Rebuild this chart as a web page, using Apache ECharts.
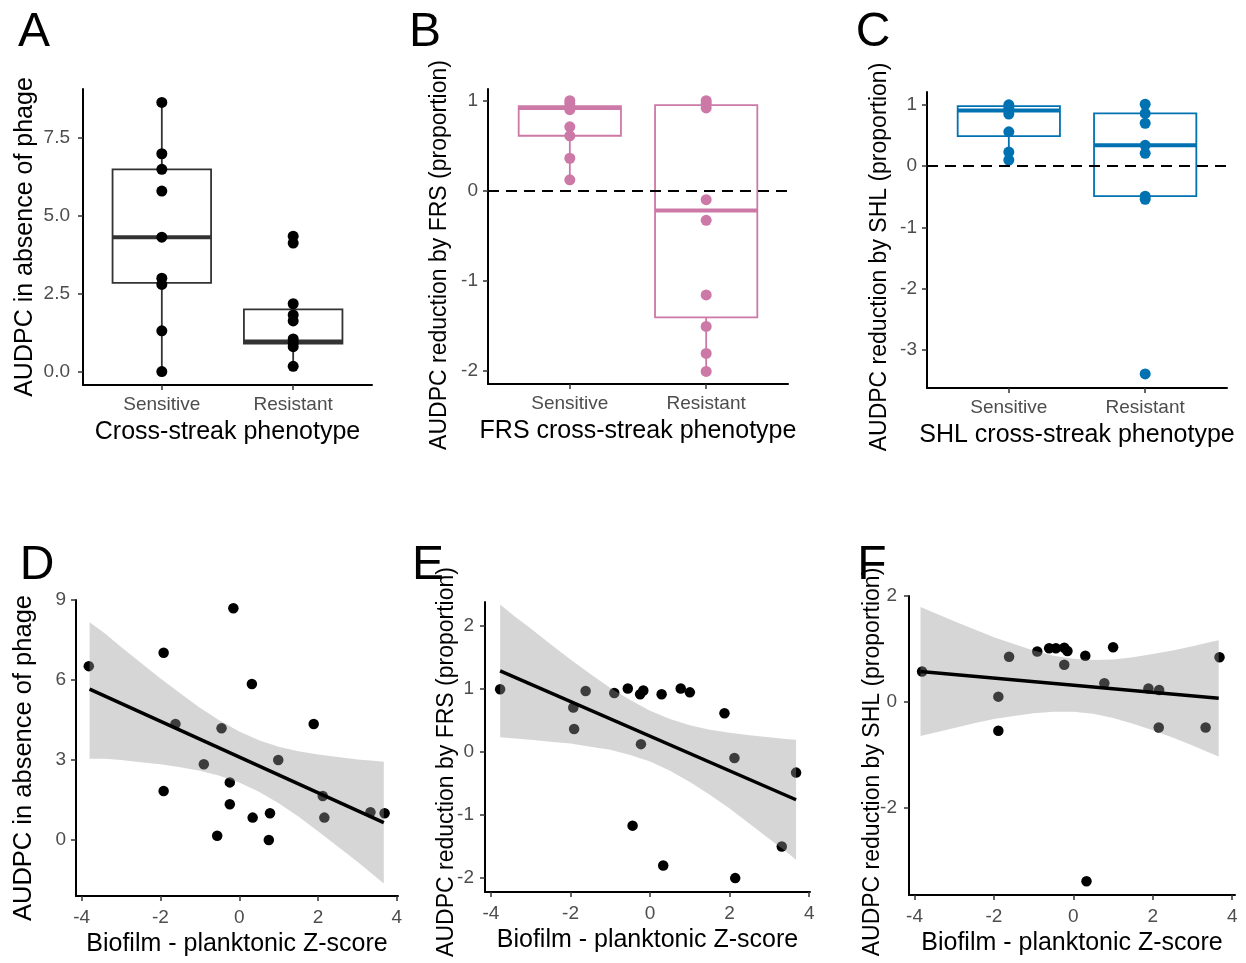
<!DOCTYPE html>
<html>
<head>
<meta charset="utf-8">
<script src="https://cdn.jsdelivr.net/npm/echarts@6/dist/echarts.min.js"></script>
<style>html,body{margin:0;padding:0;background:#fff}#c{width:1246px;height:963px}</style>
</head>
<body>
<div id="c"></div>
<script>
// ---------------- data ----------------
const categories = ['Sensitive', 'Resistant'];

// Panel A : AUDPC in absence of phage by cross-streak phenotype
const aSensitive = [8.65, 7.0, 6.5, 5.8, 4.32, 3.0, 2.8, 1.31, 0.0];
const aResistant = [4.35, 4.13, 2.18, 1.82, 1.63, 1.05, 0.92, 0.8, 0.17];
const aBox = [[0.0, 2.85, 4.32, 6.5, 8.65], [0.17, 0.9, 0.97, 2.0, 2.18]]; // min, q1, median, q3, max

// Panel B : reduction by FRS
const bSensitive = [1.0, 0.97, 0.93, 0.9, 0.71, 0.61, 0.36, 0.12];
const bResistant = [1.0, 0.97, 0.92, -0.1, -0.33, -1.16, -1.51, -1.81, -2.01];
const bBox = [[0.12, 0.61, 0.92, 0.94, 1.0], [-2.01, -1.41, -0.22, 0.95, 1.0]];

// Panel C : reduction by SHL
const cSensitive = [1.0, 0.95, 0.9, 0.85, 0.56, 0.23, 0.1];
const cResistant = [1.01, 0.86, 0.7, 0.34, 0.21, -0.49, -0.54, -3.39];
const cBox = [[0.08, 0.49, 0.91, 0.98, 1.01], [-0.54, -0.49, 0.34, 0.86, 1.01]];

// Panel D
const dX = [-3.82, -1.92, -1.92, -1.62, -0.9, -0.45, -0.56, -0.24, -0.24, -0.15, 0.32, 0.34, 0.99, 0.78, 0.75, 1.89, 2.12, 2.16, 3.33, 3.69];
const dY = [6.52, 7.02, 1.84, 4.35, 2.84, 4.19, 0.16, 2.16, 1.34, 8.69, 5.85, 0.84, 3.0, 1.0, 0.0, 4.35, 1.65, 0.84, 1.04, 1.0];
const dFitX = [-3.8, 3.67];
const dFitY = [5.66, 0.65];
const dBandX = [-3.8, -3.4, -3, -2.5, -2, -1.5, -1, -0.5, 0, 0.5, 1, 1.5, 2, 2.5, 3, 3.4, 3.67];
const dBandLo = [3.05, 3.05, 3.0, 2.92, 2.84, 2.73, 2.6, 2.41, 2.16, 1.81, 1.38, 0.88, 0.33, -0.24, -0.82, -1.3, -1.63];
const dBandHi = [8.17, 7.73, 7.24, 6.65, 6.06, 5.5, 4.96, 4.48, 4.07, 3.74, 3.5, 3.33, 3.21, 3.11, 3.02, 2.97, 2.93];

// Panel E
const eX = [-3.77, -1.93, -1.91, -1.62, -0.9, -0.56, -0.25, -0.17, -0.23, 0.29, 0.77, 1.0, 1.87, 2.12, 3.67, -0.44, 0.33, 2.14, 3.31];
const eY = [0.99, 0.70, 0.36, 0.96, 0.93, 1.0, 0.91, 0.97, 0.12, 0.91, 1.0, 0.94, 0.61, -0.1, -0.33, -1.17, -1.8, -2.0, -1.5];
const eFitX = [-3.77, 3.67];
const eFitY = [1.28, -0.76];
const eBandX = [-3.77, -3.4, -3, -2.5, -2, -1.5, -1, -0.5, 0, 0.5, 1, 1.5, 2, 2.5, 3, 3.4, 3.67];
const eBandLo = [0.23, 0.21, 0.19, 0.16, 0.13, 0.08, 0.03, -0.05, -0.155, -0.30, -0.48, -0.68, -0.90, -1.14, -1.38, -1.57, -1.71];
const eBandHi = [2.33, 2.14, 1.95, 1.70, 1.46, 1.23, 1.01, 0.82, 0.65, 0.52, 0.42, 0.35, 0.30, 0.26, 0.23, 0.20, 0.19];

// Panel F
const fX = [-3.81, -1.89, -1.89, -1.62, -0.91, -0.61, -0.44, -0.23, -0.15, -0.23, 0.30, 0.33, 0.78, 1.0, 1.89, 2.16, 2.15, 3.33, 3.68];
const fY = [0.57, 0.095, -0.55, 0.85, 0.95, 1.01, 1.01, 1.02, 0.96, 0.70, 0.87, -3.40, 0.35, 1.03, 0.25, 0.22, -0.49, -0.49, 0.84];
const fFitX = [-3.85, 3.66];
const fFitY = [0.57, 0.064];
const fBandX = [-3.85, -3.4, -3, -2.5, -2, -1.5, -1, -0.5, 0, 0.5, 1, 1.5, 2, 2.5, 3, 3.4, 3.66];
const fBandLo = [-0.65, -0.57, -0.50, -0.41, -0.33, -0.27, -0.22, -0.19, -0.19, -0.23, -0.31, -0.42, -0.54, -0.68, -0.83, -0.96, -1.04];
const fBandHi = [1.79, 1.65, 1.52, 1.37, 1.22, 1.09, 0.97, 0.87, 0.81, 0.79, 0.80, 0.84, 0.90, 0.97, 1.05, 1.12, 1.16];

// tick labels
const ticksA = [0, 2.5, 5, 7.5];
const ticksB = [-2, -1, 0, 1];
const ticksC = [-3, -2, -1, 0, 1];
const ticksD = [0, 3, 6, 9];
const ticksE = [-2, -1, 0, 1, 2];
const ticksF = [-2, 0, 2];
const ticksZ = [-4, -2, 0, 2, 4];
const catTicks = [1, 2];

// panel letters
const panelLetters = ['A', 'B', 'C', 'D', 'E', 'F'];

// ---------------- chart ----------------
const FONT = '"Liberation Sans", Arial, Helvetica, sans-serif';
const BOX_HALF = 0.375;
const letterPos = [[34, 33], [425, 33], [873, 33], [37, 566], [428, 566], [872, 566]];

function baseAxis(gridIndex, min, max, ticks, name, gap, margin, isY, fmt, nameExtra) {
  return {
    type: 'value', gridIndex, min, max,
    name, nameLocation: 'middle', nameGap: gap, nameRotate: isY ? 90 : 0,
    nameMoveOverlap: false,
    nameTextStyle: Object.assign({color: '#000', fontSize: 25, fontFamily: FONT}, nameExtra || {}),
    axisLine: {show: true, onZero: false, lineStyle: {color: '#000', width: 2}},
    axisTick: {show: true, length: 5, customValues: ticks, lineStyle: {color: '#333', width: 1.5}},
    axisLabel: {show: true, customValues: ticks, color: '#4d4d4d', fontSize: 19, fontFamily: FONT, margin,
      formatter: fmt || (v => String(v))},
    splitLine: {show: false}
  };
}

function makeBox(color) {
  return function (params, api) {
    const c = api.value(0);
    const pMin = api.coord([c, api.value(1)]);
    const pQ1 = api.coord([c, api.value(2)]);
    const pMed = api.coord([c, api.value(3)]);
    const pQ3 = api.coord([c, api.value(4)]);
    const pMax = api.coord([c, api.value(5)]);
    const xl = api.coord([c - BOX_HALF, api.value(3)])[0];
    const xr = api.coord([c + BOX_HALF, api.value(3)])[0];
    const st = {stroke: color, lineWidth: 1.8, fill: 'none'};
    return {type: 'group', children: [
      {type: 'line', shape: {x1: pMin[0], y1: pMin[1], x2: pQ1[0], y2: pQ1[1]}, style: st},
      {type: 'line', shape: {x1: pQ3[0], y1: pQ3[1], x2: pMax[0], y2: pMax[1]}, style: st},
      {type: 'rect', shape: {x: xl, y: pQ3[1], width: xr - xl, height: pQ1[1] - pQ3[1]}, style: st},
      {type: 'line', shape: {x1: xl, y1: pMed[1], x2: xr, y2: pMed[1]}, style: {stroke: color, lineWidth: 4}}
    ]};
  };
}

function makeBand(xs, lo, hi) {
  return function (params, api) {
    if (params.dataIndex !== 0) return null;
    const pts = [];
    for (let i = 0; i < xs.length; i++) pts.push(api.coord([xs[i], hi[i]]));
    for (let i = xs.length - 1; i >= 0; i--) pts.push(api.coord([xs[i], lo[i]]));
    return {type: 'polygon', shape: {points: pts}, style: {fill: 'rgba(153,153,153,0.4)'}};
  };
}

function boxPanel(idx, box, sens, res, color, zeroLine) {
  const pts = sens.map(v => [1, v]).concat(res.map(v => [2, v]));
  const scatter = {
    type: 'scatter', xAxisIndex: idx, yAxisIndex: idx, data: pts, symbolSize: 11, z: 3,
    itemStyle: {color: color, opacity: 1}, silent: true
  };
  if (zeroLine) {
    scatter.markLine = {silent: true, symbol: ['none', 'none'], label: {show: false},
      lineStyle: {color: '#000', width: 2, type: [11, 7]}, data: [{yAxis: 0}]};
  }
  return [
    {type: 'custom', xAxisIndex: idx, yAxisIndex: idx, z: 2, silent: true,
      renderItem: makeBox(color === '#000000' ? '#333333' : color),
      encode: {x: 0, y: [1, 2, 3, 4, 5]},
      data: box.map((b, i) => [i + 1].concat(b))},
    scatter
  ];
}

function regPanel(idx, xs, ys, fitX, fitY, bx, blo, bhi) {
  return [
    {type: 'scatter', xAxisIndex: idx, yAxisIndex: idx, z: 2, symbolSize: 10.5, silent: true,
      itemStyle: {color: '#000', opacity: 1}, data: xs.map((x, i) => [x, ys[i]])},
    {type: 'custom', xAxisIndex: idx, yAxisIndex: idx, z: 3, silent: true,
      renderItem: makeBand(bx, blo, bhi), encode: {x: 0, y: [1, 2]},
      data: bx.map((x, i) => [x, blo[i], bhi[i]])},
    {type: 'line', xAxisIndex: idx, yAxisIndex: idx, z: 4, silent: true, symbol: 'none', showSymbol: false,
      lineStyle: {color: '#000', width: 3.5}, data: fitX.map((x, i) => [x, fitY[i]])}
  ];
}

const catFmt = v => categories[Math.round(v) - 1];

const option = {
  animation: false,
  backgroundColor: '#fff',
  grid: [
    {left: 83, top: 89, width: 289, height: 296, outerBoundsMode: 'none', containLabel: false},
    {left: 488, top: 89, width: 300, height: 295, outerBoundsMode: 'none', containLabel: false},
    {left: 927, top: 92, width: 300, height: 296, outerBoundsMode: 'none', containLabel: false},
    {left: 76, top: 600, width: 322, height: 296, outerBoundsMode: 'none', containLabel: false},
    {left: 485, top: 602, width: 325, height: 290, outerBoundsMode: 'none', containLabel: false},
    {left: 909, top: 596, width: 326, height: 299, outerBoundsMode: 'none', containLabel: false}
  ],
  xAxis: [
    baseAxis(0, 0.4, 2.6, catTicks, 'Cross-streak phenotype', 35, 10, false, catFmt),
    baseAxis(1, 0.4, 2.6, catTicks, 'FRS cross-streak phenotype', 35, 10, false, catFmt),
    baseAxis(2, 0.4, 2.6, catTicks, 'SHL cross-streak phenotype', 35, 10, false, catFmt),
    baseAxis(3, -4.145, 4.03, ticksZ, 'Biofilm - planktonic Z-score', 36, 12, false),
    baseAxis(4, -4.15, 4.02, ticksZ, 'Biofilm - planktonic Z-score', 36, 12, false),
    baseAxis(5, -4.14, 4.07, ticksZ, 'Biofilm - planktonic Z-score', 36, 12, false)
  ],
  yAxis: [
    baseAxis(0, -0.43, 9.08, ticksA, 'AUDPC in absence of phage', 45, 13, true, v => v.toFixed(1)),
    baseAxis(1, -2.15, 1.13, ticksB, 'AUDPC reduction by FRS (proportion)', 36.5, 10, true, null, {fontSize: 23, padding: [0, 37, 0, 0]}),
    baseAxis(2, -3.62, 1.21, ticksC, 'AUDPC reduction by SHL (proportion)', 35.5, 10, true, null, {fontSize: 23, padding: [0, 34, 0, 0]}),
    baseAxis(3, -2.1, 9.0, ticksD, 'AUDPC in absence of phage', 39, 10, true, null, {fontSize: 25.5, padding: [0, 20, 0, 0]}),
    baseAxis(4, -2.22, 2.37, ticksE, 'AUDPC reduction by FRS (proportion)', 26.5, 11, true, null, {fontSize: 23, padding: [0, 30, 0, 0]}),
    baseAxis(5, -3.66, 2.0, ticksF, 'AUDPC reduction by SHL (proportion)', 24.5, 12, true, null, {fontSize: 23, padding: [0, 33, 0, 0]})
  ],
  series: [].concat(
    boxPanel(0, aBox, aSensitive, aResistant, '#000000', false),
    boxPanel(1, bBox, bSensitive, bResistant, '#CC79A7', true),
    boxPanel(2, cBox, cSensitive, cResistant, '#0072B2', true),
    regPanel(3, dX, dY, dFitX, dFitY, dBandX, dBandLo, dBandHi),
    regPanel(4, eX, eY, eFitX, eFitY, eBandX, eBandLo, eBandHi),
    regPanel(5, fX, fY, fFitX, fFitY, fBandX, fBandLo, fBandHi)
  ),
  graphic: {elements:
    panelLetters.map((t, i) => ({
      type: 'text', z: 101, x: letterPos[i][0], y: letterPos[i][1],
      style: {text: t, fontSize: 48, fontFamily: FONT, fill: '#000', align: 'center', verticalAlign: 'middle',
        textAlign: 'center', textVerticalAlign: 'middle'}
    }))
  }
};

const chart = echarts.init(document.getElementById('c'), null, {renderer: 'canvas'});
chart.setOption(option);
</script>
</body>
</html>
